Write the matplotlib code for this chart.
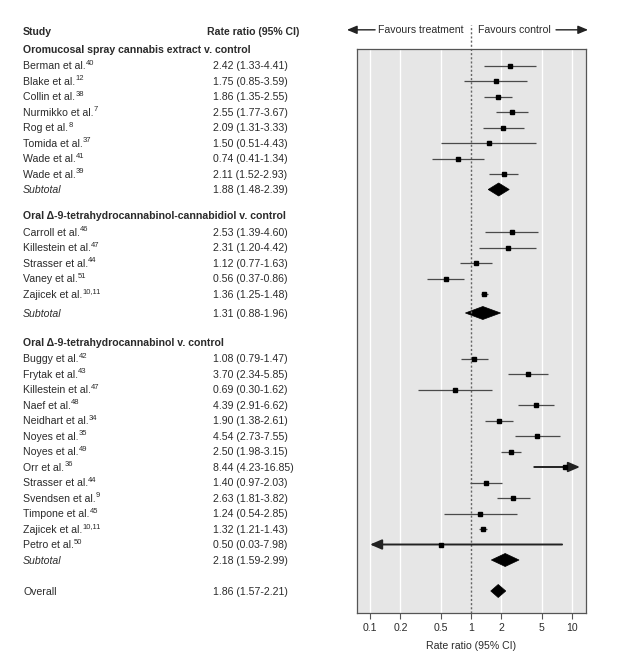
import matplotlib
matplotlib.use('Agg')
import matplotlib.pyplot as plt
from matplotlib.patches import Polygon

plt.rcParams['font.family'] = ['Liberation Sans', 'DejaVu Sans']

# data
g1_title = 'Oromucosal spray cannabis extract v. control'
g1_names = ['Berman et al.', 'Blake et al.', 'Collin et al.', 'Nurmikko et al.',
            'Rog et al.', 'Tomida et al.', 'Wade et al.', 'Wade et al.']
g1_refs = ['40', '12', '38', '7', '8', '37', '41', '39']
g1_rr = [2.42, 1.75, 1.86, 2.55, 2.09, 1.50, 0.74, 2.11]
g1_lo = [1.33, 0.85, 1.35, 1.77, 1.31, 0.51, 0.41, 1.52]
g1_hi = [4.41, 3.59, 2.55, 3.67, 3.33, 4.43, 1.34, 2.93]
g1_sub = [1.88, 1.48, 2.39]

g2_title = 'Oral \u0394-9-tetrahydrocannabinol-cannabidiol v. control'
g2_names = ['Carroll et al.', 'Killestein et al.', 'Strasser et al.',
            'Vaney et al.', 'Zajicek et al.']
g2_refs = ['46', '47', '44', '51', '10,11']
g2_rr = [2.53, 2.31, 1.12, 0.56, 1.36]
g2_lo = [1.39, 1.20, 0.77, 0.37, 1.25]
g2_hi = [4.60, 4.42, 1.63, 0.86, 1.48]
g2_sub = [1.31, 0.88, 1.96]

g3_title = 'Oral \u0394-9-tetrahydrocannabinol v. control'
g3_names = ['Buggy et al.', 'Frytak et al.', 'Killestein et al.', 'Naef et al.',
            'Neidhart et al.', 'Noyes et al.', 'Noyes et al.', 'Orr et al.',
            'Strasser et al.', 'Svendsen et al.', 'Timpone et al.',
            'Zajicek et al.', 'Petro et al.']
g3_refs = ['42', '43', '47', '48', '34', '35', '49', '36', '44', '9', '45',
           '10,11', '50']
g3_rr = [1.08, 3.70, 0.69, 4.39, 1.90, 4.54, 2.50, 8.44, 1.40, 2.63, 1.24, 1.32, 0.50]
g3_lo = [0.79, 2.34, 0.30, 2.91, 1.38, 2.73, 1.98, 4.23, 0.97, 1.81, 0.54, 1.21, 0.03]
g3_hi = [1.47, 5.85, 1.62, 6.62, 2.61, 7.55, 3.15, 16.85, 2.03, 3.82, 2.85, 1.43, 7.98]
g3_sub = [2.18, 1.59, 2.99]

overall = [1.86, 1.57, 2.21]

ticks = [0.1, 0.2, 0.5, 1, 2, 5, 10]
tick_labels = ['0.1', '0.2', '0.5', '1', '2', '5', '10']

groups = [
    (g1_title, g1_names, g1_refs, g1_rr, g1_lo, g1_hi, g1_sub),
    (g2_title, g2_names, g2_refs, g2_rr, g2_lo, g2_hi, g2_sub),
    (g3_title, g3_names, g3_refs, g3_rr, g3_lo, g3_hi, g3_sub),
]

# layout (pixel rows, top down)
W, H = 617, 666
step = 15.5
x_name, x_val = 23, 213
base = 3.8  # baseline offset below row centre
xmin, xmax = 0.0743, 13.77
clip_lo, clip_hi = 0.1, 12.0
tc = '#2b2b2b'
fs = 7.6

fig = plt.figure(figsize=(W / 100, H / 100), dpi=100)
txt = fig.add_axes([0, 0, 1, 1])
txt.set_xlim(0, W)
txt.set_ylim(H, 0)
txt.axis('off')
renderer = fig.canvas.get_renderer()

ax = fig.add_axes([357 / W, 53 / H, 229 / W, 564 / H])
ax.set_xscale('log')
ax.set_xlim(xmin, xmax)
ax.set_ylim(613, 49)
ax.set_facecolor('#e6e6e6')
for s in ax.spines.values():
    s.set_color('#555555')
    s.set_linewidth(0.9)


def fmt(rr, lo, hi):
    return '%.2f (%.2f-%.2f)' % (rr, lo, hi)


def put(x, y, s, **kw):
    return txt.text(x, y + base, s, fontsize=fs, color=tc, va='baseline', **kw)


def put_sup(t, y, s):
    # superscript reference number right after the study name
    bb = t.get_window_extent(renderer)
    x1 = txt.transData.inverted().transform((bb.x1, 0))[0]
    txt.text(x1 + 0.2, y + base - 4.4, s, fontsize=fs * 0.72, color=tc, va='baseline')


def diamond(y, est, lo, hi):
    ax.add_patch(Polygon([(lo, y), (est, y - 6.5), (hi, y), (est, y + 6.5)],
                         closed=True, facecolor='black', edgecolor='black', lw=0.5))


y = 31
put(x_name, y, 'Study', fontweight='bold')
put(207, y, 'Rate ratio (95% CI)', fontweight='bold')

gap_before_header = [18, 26, 29]
gap_before_sub = [15.5, 19, 15.5]
for gi, (title, names, refs, rr, lo, hi, sub) in enumerate(groups):
    y += gap_before_header[gi]
    put(x_name, y, title, fontweight='bold')
    y += 16.5 - step
    for n, r, e, l, h in zip(names, refs, rr, lo, hi):
        y += step
        t = put(x_name, y, n)
        put_sup(t, y, r)
        put(x_val, y, fmt(e, l, h))
        if l < xmin:
            ax.annotate('', xy=(clip_lo, y), xytext=(h, y),
                        arrowprops=dict(arrowstyle='-|>,head_length=0.7,head_width=0.3',
                                        color='#222222', lw=1.4, shrinkA=0, shrinkB=0))
        elif h > xmax:
            ax.annotate('', xy=(clip_hi, y), xytext=(l, y),
                        arrowprops=dict(arrowstyle='-|>,head_length=0.7,head_width=0.3',
                                        color='#222222', lw=1.4, shrinkA=0, shrinkB=0))
        else:
            ax.plot([l, h], [y, y], color='#4a4a4a', lw=0.9, solid_capstyle='butt')
        ax.plot(e, y, marker='s', ms=3.2, color='black', zorder=5)
    y += gap_before_sub[gi]
    put(x_name, y, 'Subtotal', style='italic')
    put(x_val, y, fmt(*sub))
    diamond(y, *sub)

y += 31
put(x_name, y, 'Overall')
put(x_val, y, fmt(*overall))
diamond(y, *overall)

# grid and reference line
for t in ticks:
    if t != 1:
        ax.axvline(t, color='white', lw=1.0, zorder=0)
ax.plot([1, 1], [613, 25], color='#666666', lw=1.0, ls=(0, (1.5, 1.5)),
        clip_on=False, zorder=1)

ax.set_xticks(ticks)
ax.set_xticklabels(tick_labels)
ax.minorticks_off()
ax.set_yticks([])
ax.tick_params(axis='x', direction='out', length=4, width=0.8, color='#555555',
               labelsize=fs, labelcolor=tc, pad=3)
ax.set_xlabel('Rate ratio (95% CI)', fontsize=fs, color=tc, labelpad=6)

# favours header
hy = 1.034
ax.annotate('', xy=(-0.044, hy), xytext=(0.079, hy), xycoords='axes fraction',
            arrowprops=dict(arrowstyle='-|>,head_length=0.6,head_width=0.25',
                            color='#222222', lw=1.0, shrinkA=0, shrinkB=0))
ax.text(0.467, hy, 'Favours treatment', transform=ax.transAxes, ha='right',
        va='center', fontsize=fs, color=tc)
ax.text(0.528, hy, 'Favours control', transform=ax.transAxes, ha='left',
        va='center', fontsize=fs, color=tc)
ax.annotate('', xy=(1.009, hy), xytext=(0.869, hy), xycoords='axes fraction',
            arrowprops=dict(arrowstyle='-|>,head_length=0.6,head_width=0.25',
                            color='#222222', lw=1.0, shrinkA=0, shrinkB=0))

fig.savefig('out.png', dpi=100)
